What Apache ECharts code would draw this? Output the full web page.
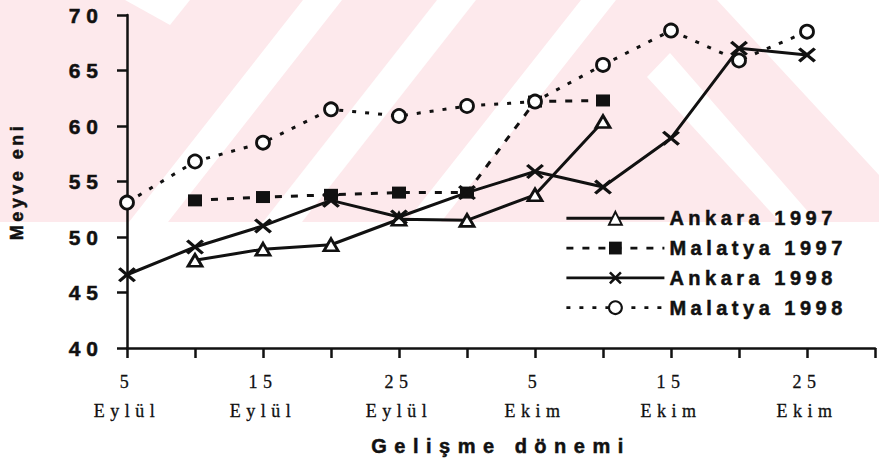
<!DOCTYPE html>
<html>
<head>
<meta charset="utf-8">
<script src="https://cdn.jsdelivr.net/npm/echarts@6/dist/echarts.min.js"></script>
<style>
html,body{margin:0;padding:0;background:#fff;}
#c{width:879px;height:467px;}
</style>
</head>
<body>
<div id="c"></div>
<script>
// ---- data ----
const days = ['5','10','15','20','25','30','5','10','15','20','25','30'];
const months = ['Eylül','Eylül','Eylül','Eylül','Eylül','Eylül','Ekim','Ekim','Ekim','Ekim','Ekim','Ekim'];
const seriesNames = ['Ankara 1997','Malatya 1997','Ankara 1998','Malatya 1998'];
const ankara1997 = [null, 47.9, 48.9, 49.3, 51.6, 51.5, 53.8, 60.4, null, null, null, null];
const malatya1997 = [null, 53.3, 53.6, 53.8, 54.0, 54.0, 62.2, 62.3, null, null, null, null];
const ankara1998 = [46.6, 49.1, 51.0, 53.3, 51.8, 54.0, 55.9, 54.5, 58.9, 67.0, 66.4, null];
const malatya1998 = [53.1, 56.8, 58.5, 61.5, 60.9, 61.8, 62.2, 65.5, 68.6, 65.9, 68.5, null];
const yTicks = [40, 45, 50, 55, 60, 65, 70];
const xTitle = 'Gelişme dönemi';
const yTitle = 'Meyve eni';

const categories = days.map((d, i) => d + '\n' + months[i]);
const crossPath = 'path://M0,1.4 L1.4,0 L5,3.6 L8.6,0 L10,1.4 L6.4,5 L10,8.6 L8.6,10 L5,6.4 L1.4,10 L0,8.6 L3.6,5 Z';

const pink = '#fde9ec';
function poly(points){
  return {type:'polygon', z:-10, silent:true, shape:{points}, style:{fill:'#ffffff'}};
}
const ink = '#111';
const thick = {textBorderColor: ink, textBorderWidth: 0.5};

const option = {
  animation: false,
  backgroundColor: '#ffffff',
  graphic: [
    {type:'rect', z:-11, silent:true, shape:{x:0,y:0,width:879,height:222}, style:{fill:pink}},
    poly([[125,0],[190,0],[170,25]]),
    poly([[303,0],[342,0],[168,222],[129,222]]),
    poly([[437,0],[476,0],[302,222],[263,222]]),
    poly([[581,0],[616,0],[441,222],[406,222]]),
    poly([[647,77],[670,53],[817,222],[780,222]]),
    poly([[717,0],[879,0],[879,175]])
  ],
  grid: {left:127, right:4, top:15, bottom:119, containLabel:false, outerBoundsMode:'none'},
  legend: {
    data: seriesNames,
    orient: 'vertical',
    left: 565,
    top: 208,
    padding: 0,
    itemWidth: 98,
    itemHeight: 16,
    itemGap: 9.3,
    lineStyle: {width: 2.8},
    textStyle: Object.assign({fontFamily:'Liberation Sans', fontWeight:'bold', fontSize:20, color:ink, padding:[0,0,0,0]}, thick)
  },
  xAxis: {
    type: 'category',
    data: categories,
    boundaryGap: false,
    name: xTitle,
    nameLocation: 'middle',
    nameGap: 88,
    nameTextStyle: Object.assign({fontFamily:'Liberation Sans', fontWeight:'bold', fontSize:20, color:ink}, thick),
    axisLine: {lineStyle:{color:ink, width:2.5}},
    axisTick: {interval:0, length:10, lineStyle:{color:ink, width:2.5}},
    axisLabel: {interval:1, margin:19, fontFamily:'Liberation Serif', fontSize:18, color:ink, lineHeight:29, textBorderColor:ink, textBorderWidth:0.3},
    splitLine: {show:false}
  },
  yAxis: {
    type: 'value',
    min: yTicks[0],
    max: yTicks[yTicks.length-1],
    interval: 5,
    name: yTitle,
    nameLocation: 'middle',
    nameGap: 101,
    nameRotate: 90,
    nameTextStyle: Object.assign({fontFamily:'Liberation Sans', fontWeight:'bold', fontSize:18, color:ink}, thick),
    axisLine: {show:true, lineStyle:{color:ink, width:2.5}},
    axisTick: {show:true, length:10, lineStyle:{color:ink, width:2.5}},
    axisLabel: Object.assign({margin:23, fontFamily:'Liberation Sans', fontWeight:'bold', fontSize:21, color:ink}, thick),
    splitLine: {show:false}
  },
  series: [
    {
      name: seriesNames[0], type:'line', data: ankara1997,
      symbol:'triangle', symbolSize:[14,12], showAllSymbol:true,
      lineStyle:{color:ink, width:3, type:'solid'},
      itemStyle:{color:'#fff', borderColor:ink, borderWidth:2.8}
    },
    {
      name: seriesNames[1], type:'line', data: malatya1997,
      symbol:'rect', symbolSize:[14,12], showAllSymbol:true,
      lineStyle:{color:ink, width:3, type:[7,9]},
      itemStyle:{color:ink, borderColor:ink, borderWidth:0}
    },
    {
      name: seriesNames[2], type:'line', data: ankara1998,
      symbol: crossPath, symbolSize:[18,15], showAllSymbol:true,
      lineStyle:{color:ink, width:3, type:'solid'},
      itemStyle:{color:ink, borderColor:ink, borderWidth:0}
    },
    {
      name: seriesNames[3], type:'line', data: malatya1998,
      symbol:'circle', symbolSize:13, showAllSymbol:true,
      lineStyle:{color:ink, width:3, type:[4,9]},
      itemStyle:{color:'#fff', borderColor:ink, borderWidth:2.8}
    }
  ]
};

const dom = document.getElementById('c');
const chart = echarts.init(dom, null, {renderer:'svg'});
chart.setOption(option);

function applySpacing(){
  dom.querySelectorAll('text').forEach(t => {
    const s = (t.textContent || '').trim();
    let ls = null;
    if (/^(Ankara|Malatya)/.test(s)) ls = '4.5px';
    else if (/^(40|45|50|55|60|65|70)$/.test(s)) ls = '6px';
    else if (/^(Eylül|Ekim|5|15|25)$/.test(s)) ls = '5.5px';
    else if (s === xTitle) ls = '7.5px';
    else if (s === yTitle) ls = '3.5px';
    if (ls && t.style.letterSpacing !== ls) t.style.letterSpacing = ls;
  });
}
applySpacing();
chart.on('finished', applySpacing);
</script>
</body>
</html>
